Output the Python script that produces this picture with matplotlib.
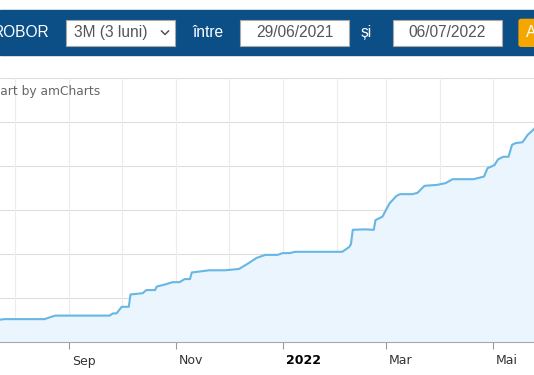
import matplotlib
matplotlib.use('Agg')
import matplotlib.pyplot as plt
import matplotlib.dates as mdates
from matplotlib.patches import Rectangle, FancyBboxPatch
from matplotlib.lines import Line2D
from matplotlib.transforms import ScaledTranslation
import pandas as pd

# ROBOR 3M values
dates = ['2021-07-20', '2021-07-26', '2021-08-18', '2021-08-20', '2021-08-24',
         '2021-09-24', '2021-09-26', '2021-09-28', '2021-10-01', '2021-10-05',
         '2021-10-06', '2021-10-13', '2021-10-15', '2021-10-20', '2021-10-21',
         '2021-10-26', '2021-10-30', '2021-11-03', '2021-11-06', '2021-11-09',
         '2021-11-10', '2021-11-20', '2021-11-29', '2021-12-07', '2021-12-12',
         '2021-12-17', '2021-12-22', '2021-12-29', '2022-01-01', '2022-01-05',
         '2022-01-08', '2022-02-04', '2022-02-08', '2022-02-09', '2022-02-10',
         '2022-02-17', '2022-02-22', '2022-02-23', '2022-02-27', '2022-03-03',
         '2022-03-07', '2022-03-09', '2022-03-16', '2022-03-19', '2022-03-23',
         '2022-03-30', '2022-04-04', '2022-04-08', '2022-04-20', '2022-04-23',
         '2022-04-26', '2022-04-28', '2022-05-02', '2022-05-04', '2022-05-07',
         '2022-05-10', '2022-05-12', '2022-05-14', '2022-05-18', '2022-05-21',
         '2022-05-23', '2022-05-25']
values = [1.49, 1.52, 1.52, 1.55, 1.60, 1.60, 1.65, 1.65, 1.80, 1.80,
          2.08, 2.11, 2.18, 2.18, 2.26, 2.31, 2.36, 2.36, 2.43, 2.43,
          2.58, 2.63, 2.63, 2.66, 2.78, 2.91, 2.98, 2.98, 3.02, 3.02,
          3.05, 3.05, 3.16, 3.23, 3.55, 3.56, 3.55, 3.77, 3.85, 4.15,
          4.32, 4.36, 4.36, 4.39, 4.55, 4.57, 4.61, 4.70, 4.70, 4.73,
          4.76, 4.95, 5.02, 5.15, 5.21, 5.21, 5.48, 5.52, 5.54, 5.71,
          5.78, 5.86]

tick_dates = ['2021-09-01', '2021-11-01', '2022-01-01', '2022-03-01', '2022-05-01']
tick_labels = ['Sep', 'Nov', '2022', 'Mar', 'Mai']
y_grid = [2, 3, 4, 5, 6, 7]

W, H = 534, 375


def fx(px):
    return px / W


def fy(py):
    return 1 - py / H


fig = plt.figure(figsize=(W / 100, H / 100), dpi=100)
fig.patch.set_facecolor('white')

# header bar
fig.patches.append(Rectangle((0, fy(54.5)), 1, fy(10) - fy(54.5),
                             transform=fig.transFigure, color='#0c4f87', zorder=0))

hdr_font = dict(family='Liberation Sans', fontsize=11.2, va='center')
fig.text(fx(49), fy(32.5), 'ROBOR', color='white', ha='right', **hdr_font)

for x0, x1 in [(66.4, 175.4), (240, 349), (392.7, 501.7)]:
    fig.patches.append(Rectangle((fx(x0), fy(46)), fx(x1) - fx(x0), fy(19.8) - fy(46),
                                 transform=fig.transFigure, facecolor='white',
                                 edgecolor='#a8a8a8', linewidth=0.8, zorder=1))

fig.text(fx(74), fy(32.5), '3M (3 luni)', color='#555555', ha='left', **hdr_font)
fig.lines.append(Line2D([fx(161.5), fx(165), fx(168.5)], [fy(31), fy(34.5), fy(31)],
                        transform=fig.transFigure, color='#555555', linewidth=1.1))
fig.text(fx(192.5), fy(32.5), 'între', color='white', ha='left', **hdr_font)
fig.text(fx(294.6), fy(32.5), '29/06/2021', color='#555555', ha='center', **hdr_font)
fig.text(fx(366), fy(32.5), 'și', color='white', ha='center', **hdr_font)
fig.text(fx(447), fy(32.5), '06/07/2022', color='#555555', ha='center', **hdr_font)

fig.patches.append(FancyBboxPatch((fx(518.4), fy(47)), fx(40), fy(18.7) - fy(47),
                                  boxstyle='round,pad=0,rounding_size=0.006',
                                  transform=fig.transFigure, facecolor='#f5a700',
                                  edgecolor='none', zorder=1))
fig.text(fx(526), fy(32.5), 'Afișează', color='white', ha='left', **hdr_font)

# chart
ax = fig.add_axes([0, (H - 342) / H, 1, (342 - 78) / H])
x = pd.to_datetime(dates)
ax.fill_between(x, values, 1, color='#eaf5fd', zorder=1, linewidth=0)
ax.plot(x, values, color='#67b6e3', linewidth=1.5, zorder=3)

for v in y_grid:
    ax.axhline(v, color='#dedede', linewidth=0.8, zorder=0)

months = pd.date_range('2021-08-01', '2022-05-01', freq='MS')
ax.set_xticks(months, minor=True)
ax.set_xticks(pd.to_datetime(tick_dates), tick_labels)

# limits after the ticks, set_xticks can widen them
aug1 = mdates.date2num(pd.Timestamp('2021-08-01'))
ppd = 1.75
ax.set_xlim(aug1 - 15 / ppd, aug1 + (W - 15) / ppd)
ax.set_ylim(1, 7)

ax.grid(True, which='both', axis='x', color='#ececec', linewidth=0.8, zorder=0)
ax.set_yticks([])
ax.tick_params(axis='x', which='minor', length=0)
ax.tick_params(axis='x', which='major', length=5, width=0.8, color='#999999',
               pad=4, labelsize=9, labelcolor='#333333')
for lbl in ax.get_xticklabels():
    lbl.set_ha('left')
    lbl.set_transform(lbl.get_transform() + ScaledTranslation(3 / 100, 0, fig.dpi_scale_trans))
    lbl.set_family('DejaVu Sans')
lbls = ax.get_xticklabels()
lbls[2].set_fontweight('bold')
lbls[2].set_color('black')

for s in ['top', 'left', 'right']:
    ax.spines[s].set_visible(False)
ax.spines['bottom'].set_color('#aaaaaa')
ax.spines['bottom'].set_linewidth(0.8)
ax.set_facecolor('white')
ax.set_axisbelow(True)

ax.text(fx(100), fy(92), 'Chart by amCharts', transform=fig.transFigure,
        ha='right', va='center', fontsize=8.8, color='#666666', family='DejaVu Sans')

fig.savefig('out.png', dpi=100)
